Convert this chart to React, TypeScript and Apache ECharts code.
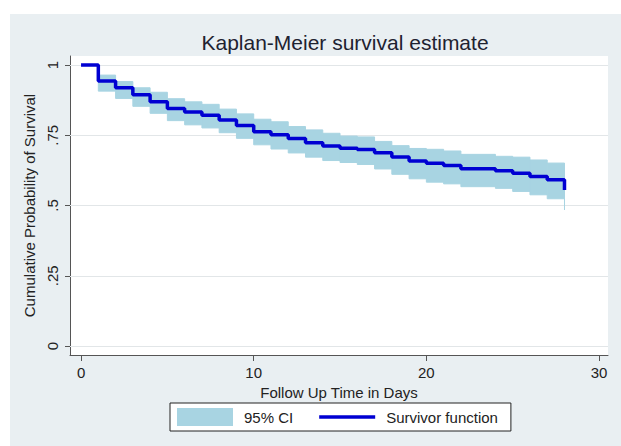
import React, { useEffect, useRef } from "react";
import * as echarts from "echarts";

// Kaplan-Meier survivor function (step times in days and survival estimates)
const kmTimes = [0, 1, 2, 3, 4, 5, 6, 7, 8, 9, 10, 11, 12, 13, 14, 15, 16, 17, 18, 19, 20, 21, 22, 24, 25, 26, 27, 28];
const kmSurvival = [1, 0.943, 0.919, 0.894, 0.869, 0.845, 0.833, 0.821, 0.804, 0.785, 0.762, 0.752, 0.738, 0.723, 0.712, 0.704, 0.699, 0.688, 0.673, 0.658, 0.65, 0.642, 0.631, 0.624, 0.615, 0.603, 0.592, 0.555];

// 95% confidence band (per step)
const ciTimes = [1, 2, 3, 4, 5, 6, 7, 8, 9, 10, 11, 12, 13, 14, 15, 16, 17, 18, 19, 20, 21, 22, 24, 25, 26, 27, 28];
const ciUpper = [0.964, 0.941, 0.919, 0.903, 0.88, 0.869, 0.86, 0.843, 0.826, 0.807, 0.798, 0.781, 0.769, 0.757, 0.747, 0.744, 0.728, 0.713, 0.703, 0.7, 0.694, 0.682, 0.675, 0.672, 0.662, 0.651, 0.62];
const ciLower = [0.907, 0.881, 0.853, 0.828, 0.802, 0.787, 0.776, 0.759, 0.739, 0.716, 0.701, 0.687, 0.672, 0.66, 0.653, 0.646, 0.63, 0.611, 0.595, 0.583, 0.577, 0.567, 0.561, 0.55, 0.538, 0.524, 0.484];

const xTickValues = [0, 10, 20, 30];
const yTickValues = [0, 0.25, 0.5, 0.75, 1];
const yTickLabels = ["0", ".25", ".5", ".75", "1"];

const FONT = "'Liberation Sans', Arial, Helvetica, sans-serif";
const BAND = "#a8d4e2";
const LINE = "#0000d2";

export default function App() {
  const ref = useRef<HTMLDivElement>(null);

  useEffect(() => {
    document.body.style.margin = "0";
    if (!ref.current) return;
    const chart = echarts.init(ref.current, null, { renderer: "svg" });

    const bandData = ciTimes.map((t, i) => [
      t,
      i < ciTimes.length - 1 ? ciTimes[i + 1] : t,
      ciLower[i],
      ciUpper[i],
    ]);
    const lineData = kmTimes.map((t, i) => [t, kmSurvival[i]]);

    chart.setOption({
      animation: false,
      backgroundColor: "transparent",
      title: {
        text: "Kaplan-Meier survival estimate",
        left: 340,
        top: 27,
        textAlign: "center",
        textStyle: { fontFamily: FONT, fontSize: 21, fontWeight: "normal", color: "#1e2230" },
      },
      grid: {
        left: 70,
        top: 56,
        width: 538,
        height: 299,
        show: true,
        backgroundColor: "#ffffff",
        borderWidth: 0,
        containLabel: false,
        outerBoundsMode: "none",
      },
      legend: {
        left: 170,
        top: 403,
        orient: "horizontal",
        backgroundColor: "#ffffff",
        borderColor: "#222222",
        borderWidth: 1,
        borderRadius: 0,
        padding: [5, 13, 5, 7],
        itemWidth: 56,
        itemHeight: 18,
        itemGap: 26,
        textStyle: { fontFamily: FONT, fontSize: 15, color: "#222222", padding: [0, 0, 0, 6] },
        selectedMode: false,
        data: [
          { name: "95% CI", icon: "rect" },
          { name: "Survivor function", icon: "path://M0,0 L56,0 L56,3.5 L0,3.5 Z" },
        ],
      },
      xAxis: {
        type: "value",
        min: -0.64,
        max: 30.52,
        position: "bottom",
        name: "Follow Up Time in Days",
        nameLocation: "middle",
        nameGap: 26,
        nameTextStyle: { fontFamily: FONT, fontSize: 15, color: "#222222" },
        axisLine: { show: true, onZero: false, lineStyle: { color: "#555555", width: 1 } },
        axisTick: { show: true, length: 6, lineStyle: { color: "#555555" }, customValues: xTickValues },
        axisLabel: {
          customValues: xTickValues,
          margin: 10,
          fontFamily: FONT,
          fontSize: 15,
          color: "#222222",
        },
        splitLine: { show: false },
      },
      yAxis: {
        type: "value",
        min: -0.032,
        max: 1.032,
        name: "Cumulative Probability of Survival",
        nameLocation: "middle",
        nameGap: 31,
        nameTextStyle: { fontFamily: FONT, fontSize: 15, color: "#222222" },
        axisLine: { show: true, onZero: false, lineStyle: { color: "#555555", width: 1 } },
        axisTick: { show: true, length: 5, lineStyle: { color: "#555555" }, customValues: yTickValues },
        axisLabel: {
          customValues: yTickValues,
          rotate: 90,
          margin: 10,
          fontFamily: FONT,
          fontSize: 15,
          color: "#222222",
          formatter: (v: number) => {
            const idx = yTickValues.findIndex((t) => Math.abs(t - v) < 1e-9);
            return idx >= 0 ? yTickLabels[idx] : "";
          },
        },
        splitLine: { show: false },
      },
      series: [
        {
          name: "gridlines",
          type: "line",
          data: [],
          z: 1,
          silent: true,
          markLine: {
            z: 1,
            silent: true,
            symbol: ["none", "none"],
            label: { show: false },
            lineStyle: { color: "#e2e6e8", width: 1, type: "solid" },
            data: yTickValues.map((v) => ({ yAxis: v })),
          },
        },
        {
          name: "95% CI",
          type: "custom",
          z: 2,
          itemStyle: { color: BAND },
          encode: { x: [0, 1], y: [2, 3] },
          data: bandData,
          renderItem: (params: any, api: any) => {
            const p0 = api.coord([api.value(0), api.value(3)]);
            const p1 = api.coord([api.value(1), api.value(2)]);
            return {
              type: "rect",
              shape: { x: p0[0], y: p0[1], width: p1[0] - p0[0], height: p1[1] - p0[1] },
              style: { fill: BAND, stroke: BAND, lineWidth: 1 },
            };
          },
        },
        {
          name: "Survivor function",
          type: "line",
          step: "end",
          z: 3,
          symbol: "none",
          showSymbol: false,
          itemStyle: { color: LINE },
          lineStyle: { color: LINE, width: 3.5 },
          data: lineData,
        },
      ],
    });

    return () => chart.dispose();
  }, []);

  return (
    <div style={{ position: "relative", width: 621, height: 446, background: "#ffffff", overflow: "hidden" }}>
      <div
        style={{ position: "absolute", left: 10, top: 14, width: 611, height: 432, background: "#e9eff2" }}
      />
      <div ref={ref} style={{ position: "absolute", left: 0, top: 0, width: 621, height: 446 }} />
    </div>
  );
}
